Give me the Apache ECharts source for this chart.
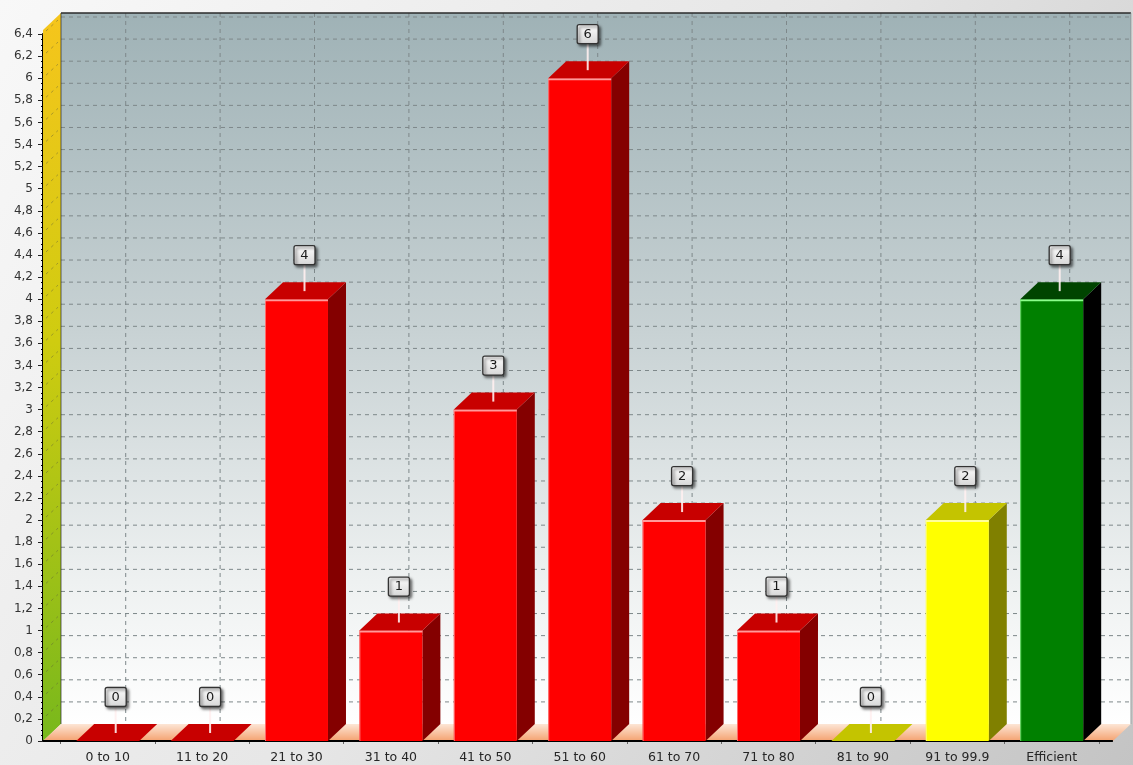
<!DOCTYPE html>
<html>
<head>
<meta charset="utf-8">
<script src="https://cdn.jsdelivr.net/npm/echarts@6/dist/echarts.min.js"></script>
<style>
html,body{margin:0;padding:0;}
#chart{width:1133px;height:765px;}
</style>
</head>
<body>
<div id="chart"></div>
<script>
// ---- data ----
const categories = ['0 to 10','11 to 20','21 to 30','31 to 40','41 to 50','51 to 60','61 to 70','71 to 80','81 to 90','91 to 99.9','Efficient'];
const values = [0, 0, 4, 1, 3, 6, 2, 1, 0, 2, 4];
const colorGroups = ['red','red','red','red','red','red','red','red','yellow','yellow','green'];
const yMin = 0, yMax = 6.4, yStep = 0.2;

// ---- styles ----
const palettes = {
  red:    {front:'#ff0000', top:'#c80000', side:'#840000', hi:'#ff9a9a'},
  yellow: {front:'#ffff00', top:'#c4c400', side:'#808000', hi:'#ffff9a'},
  green:  {front:'#008000', top:'#004400', side:'#000000', hi:'#8cff8c'}
};
const DX = 18, DY = 17, PAD_L = 17.5, PAD_R = 14, BAR_FRAC = 0.667;
const FONT = '"DejaVu Sans", Verdana, sans-serif';

const chart = echarts.init(document.getElementById('chart'));

function frameRender(params, api) {
  const cs = params.coordSys;
  const x0 = cs.x - PAD_L, x1 = cs.x + cs.width + PAD_R;
  const yb = api.coord([0, yMin])[1];
  const yt = api.coord([0, yMax])[1] - 4;
  const ch = [];
  // back wall
  ch.push({type:'rect', shape:{x:x0+DX, y:yt-DY, width:x1-x0, height:yb-yt},
    style:{fill:new echarts.graphic.LinearGradient(0,0,0,1,[
      {offset:0,color:'#9fb2b6'},{offset:0.45,color:'#c8d2d4'},{offset:0.8,color:'#eef1f1'},{offset:1,color:'#ffffff'}])}});
  // left wall
  ch.push({type:'polygon', shape:{points:[[x0,yb],[x0,yt],[x0+DX,yt-DY],[x0+DX,yb-DY]]},
    style:{fill:new echarts.graphic.LinearGradient(0,0,0,1,[
      {offset:0,color:'#f6c51c'},{offset:0.45,color:'#cfcc10'},{offset:1,color:'#78b81c'}])}});
  // floor
  ch.push({type:'polygon', shape:{points:[[x0,yb],[x1,yb],[x1+DX,yb-DY],[x0+DX,yb-DY]]},
    style:{fill:new echarts.graphic.LinearGradient(0,0,0,1,[
      {offset:0,color:'#fde6d6'},{offset:1,color:'#f4a270'}])}});
  // horizontal grid lines (back wall + left wall)
  const n = Math.round((yMax - yMin) / yStep);
  for (let k = 1; k <= n; k++) {
    const v = yMin + k * yStep;
    const y = api.coord([0, v])[1];
    ch.push({type:'line', shape:{x1:x0+DX, y1:y-DY, x2:x1+DX, y2:y-DY},
      style:{stroke:'#7e888a', lineWidth:1, lineDash:[4,4]}});
    ch.push({type:'line', shape:{x1:x0+3, y1:y-3, x2:x0+DX-3, y2:y-DY+3},
      style:{stroke:'rgba(90,90,60,0.45)', lineWidth:1, lineDash:[3,4]}});
  }
  // vertical grid lines at categories
  for (let i = 0; i < categories.length; i++) {
    const x = api.coord([i, 0])[0] + DX;
    ch.push({type:'line', shape:{x1:x, y1:yt-DY, x2:x, y2:yb-DY},
      style:{stroke:'#7e888a', lineWidth:1, lineDash:[4,4]}});
  }
  // frame edges
  ch.push({type:'line', shape:{x1:x0+DX, y1:yt-DY, x2:x1+DX, y2:yt-DY}, style:{stroke:'#2a2a2a', lineWidth:1.5}});
  ch.push({type:'line', shape:{x1:x0+DX, y1:yt-DY, x2:x0+DX, y2:yb-DY}, style:{stroke:'rgba(40,40,40,0.7)', lineWidth:1}});
  ch.push({type:'line', shape:{x1:x1+DX, y1:yt-DY, x2:x1+DX, y2:yb-DY}, style:{stroke:'rgba(120,130,130,0.6)', lineWidth:1}});
  // baseline
  ch.push({type:'line', shape:{x1:x0, y1:yb, x2:x1, y2:yb}, style:{stroke:'#000', lineWidth:2}});
  return {type:'group', children:ch};
}

function barRender(params, api) {
  const i = api.value(0), v = api.value(1);
  const p = palettes[colorGroups[i]];
  const c = api.coord([i, v]);
  const base = api.coord([i, 0]);
  const bw = api.size([1, 0])[0] * BAR_FRAC;
  const xl = c[0] - bw/2, xr = c[0] + bw/2, yt = c[1], yb = base[1];
  const ch = [];
  if (v > 0) {
    ch.push({type:'polygon', shape:{points:[[xr,yt],[xr+DX,yt-DY],[xr+DX,yb-DY],[xr,yb]]}, style:{fill:p.side}});
    ch.push({type:'rect', shape:{x:xl, y:yt, width:bw, height:yb-yt}, style:{fill:p.front}});
    ch.push({type:'line', shape:{x1:xl, y1:yt+1, x2:xr, y2:yt+1}, style:{stroke:p.hi, lineWidth:2}});
    ch.push({type:'line', shape:{x1:xl+0.5, y1:yt, x2:xl+0.5, y2:yb}, style:{stroke:p.hi, lineWidth:1, opacity:0.7}});
  }
  ch.push({type:'polygon', shape:{points:[[xl,yt],[xr,yt],[xr+DX,yt-DY],[xl+DX,yt-DY]]}, style:{fill:p.top}});
  return {type:'group', children:ch};
}

function labelRender(params, api) {
  const i = api.value(0), v = api.value(1);
  const c = api.coord([i, v]);
  const cx = c[0] + 8, cy = c[1] - 44;
  const w = 21, h = 19;
  return {type:'group', children:[
    {type:'line', shape:{x1:cx, y1:c[1]-8, x2:cx, y2:cy+h/2}, style:{stroke:'rgba(255,240,240,0.9)', lineWidth:2}},
    {type:'rect', shape:{x:cx-w/2, y:cy-h/2, width:w, height:h, r:2},
      style:{fill:new echarts.graphic.LinearGradient(0,0,0,1,[{offset:0,color:'#ffffff'},{offset:1,color:'#d6d6d6'}]),
        stroke:'#333', lineWidth:1.3, shadowBlur:3, shadowColor:'rgba(0,0,0,0.55)', shadowOffsetX:2, shadowOffsetY:2}},
    {type:'text', style:{text:String(values[i]), x:cx, y:cy+0.5, align:'center', verticalAlign:'middle',
      font:'13px ' + FONT, fill:'#1a1a1a'}}
  ]};
}

const barData = values.map((v, i) => [i, v]);

chart.setOption({
  animation: false,
  backgroundColor: new echarts.graphic.LinearGradient(0,0,1,1,[
    {offset:0,color:'#f8f8f8'},{offset:0.5,color:'#e6e6e6'},{offset:1,color:'#c4c4c4'}]),
  grid: {left: 60.5, right: 34.1, top: 34, bottom: 24, containLabel: false},
  xAxis: {
    type: 'category',
    data: categories,
    axisLine: {show: false},
    axisTick: {show: true, length: 3, lineStyle: {color: '#666'}},
    axisLabel: {interval: 0, margin: 10, color: '#262626', fontSize: 12.5, fontFamily: FONT},
    splitLine: {show: false}
  },
  yAxis: {
    type: 'value',
    min: yMin, max: yMax, interval: yStep,
    offset: PAD_L,
    axisLine: {show: true, lineStyle: {color: '#000', width: 2}},
    axisTick: {show: true, length: 5, lineStyle: {color: '#222'}},
    minorTick: {show: true, splitNumber: 4, length: 2, lineStyle: {color: '#000'}},
    axisLabel: {margin: 10, color: '#333', fontSize: 12, fontFamily: FONT,
      formatter: v => String(Math.round(v * 10) / 10).replace('.', ',')},
    splitLine: {show: false}
  },
  series: [
    {type:'custom', name:'frame', data:[[0, 0]], renderItem: frameRender, clip:false, silent:true, z:1},
    {type:'custom', name:'bars', data: barData, renderItem: barRender, clip:false, silent:true, z:2},
    {type:'custom', name:'labels', data: barData, renderItem: labelRender, clip:false, silent:true, z:3}
  ]
});
</script>
</body>
</html>
